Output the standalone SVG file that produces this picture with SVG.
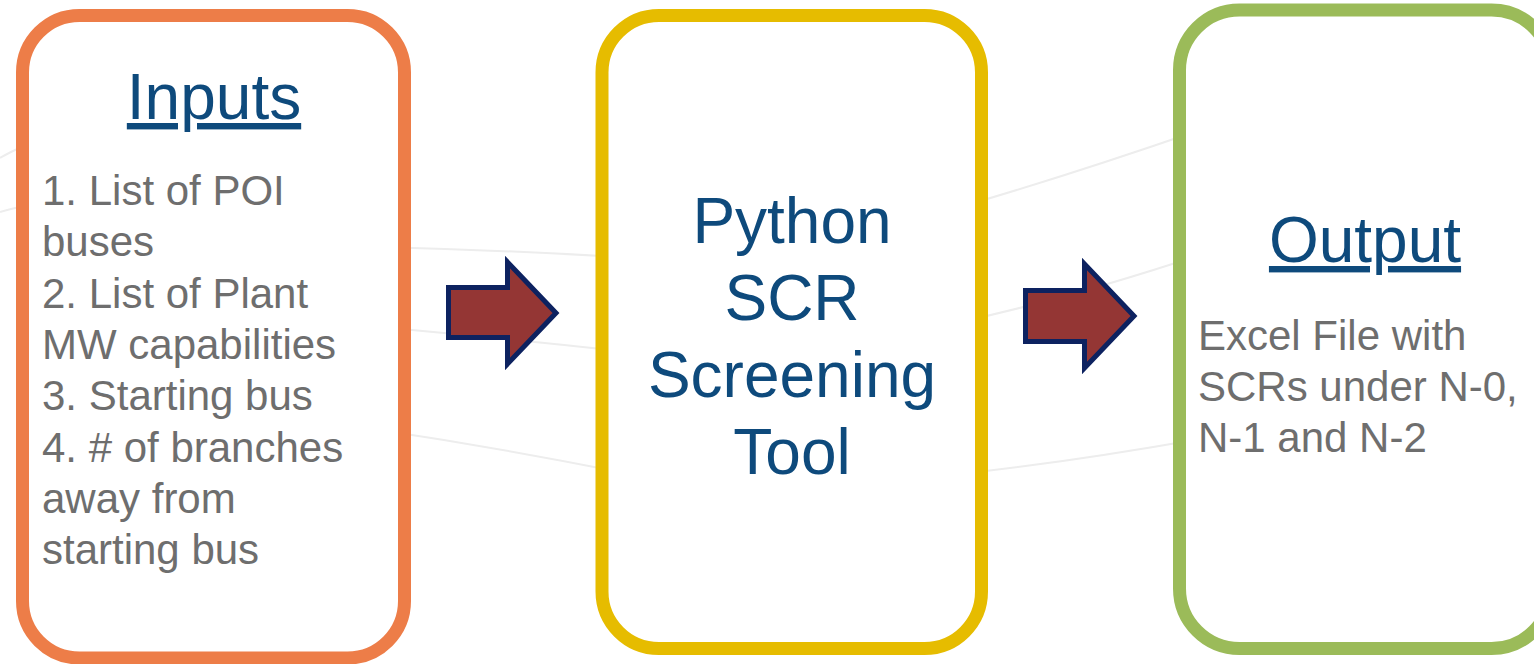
<svg xmlns="http://www.w3.org/2000/svg" width="1534" height="664" viewBox="0 0 1534 664">
<style>
.bg{fill:none;stroke:#ededed;stroke-width:2}
.box{fill:#ffffff;stroke-width:13}
.title{font-family:"Liberation Sans",Arial,sans-serif;font-size:64px;fill:#0e4a7c}
.body{font-family:"Liberation Sans",Arial,sans-serif;font-size:42px;fill:#6e6e6e}
.arrow{fill:#943634;stroke:#0d2260;stroke-width:5;stroke-linejoin:miter}
</style>
<rect width="1534" height="664" fill="#ffffff"/>
<g id="background">
<path class="bg" d="M0,158 Q10,152 24,146"/>
<path class="bg" d="M0,212 Q10,209 24,206"/>
<path class="bg" d="M380,247 Q500,250 620,257"/>
<path class="bg" d="M380,327 Q500,338 620,351"/>
<path class="bg" d="M380,430 Q500,448 620,472"/>
<path class="bg" d="M960,207 Q1070,175 1200,130"/>
<path class="bg" d="M960,322 Q1070,298 1200,255"/>
<path class="bg" d="M960,474 Q1070,462 1200,439"/>
</g>
<g id="node-inputs">
<rect class="box" x="22.5" y="15.5" width="382" height="642.5" rx="57" ry="57" stroke="#ed7d48"/>
<text class="title" x="214" y="119" text-anchor="middle" text-decoration="underline">Inputs</text>
<text class="body"><tspan x="42" y="205">1. List of POI</tspan><tspan x="42" y="256">buses</tspan><tspan x="42" y="307.5">2. List of Plant</tspan><tspan x="42" y="359">MW capabilities</tspan><tspan x="42" y="410">3. Starting bus</tspan><tspan x="42" y="461.5">4. # of branches</tspan><tspan x="42" y="513">away from</tspan><tspan x="42" y="564">starting bus</tspan></text>
</g>
<g id="node-tool">
<rect class="box" x="602" y="15.5" width="379.5" height="633" rx="57" ry="57" stroke="#e6bc00"/>
<text class="title" text-anchor="middle"><tspan x="792" y="243">Python</tspan><tspan x="792" y="320">SCR</tspan><tspan x="792" y="397">Screening</tspan><tspan x="792" y="474">Tool</tspan></text>
</g>
<g id="node-output">
<rect class="box" x="1179.5" y="10" width="372" height="638.5" rx="60" ry="60" stroke="#9bbb59"/>
<text class="title" x="1365" y="262" text-anchor="middle" text-decoration="underline">Output</text>
<text class="body"><tspan x="1198" y="350">Excel File with</tspan><tspan x="1198" y="401">SCRs under N-0,</tspan><tspan x="1198" y="452">N-1 and N-2</tspan></text>
</g>
<g id="connectors">
<polygon class="arrow" points="448.5,287.5 507.5,287.5 507.5,262 556,313 507.5,364 507.5,337.5 448.5,337.5"/>
<polygon class="arrow" points="1025.5,290.5 1084.5,290.5 1084.5,264 1134,316 1084.5,368 1084.5,341.5 1025.5,341.5"/>
</g>
</svg>
